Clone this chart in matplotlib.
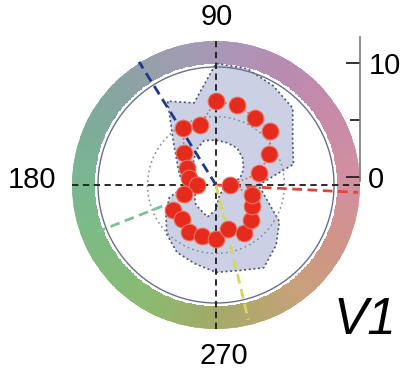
import numpy as np
import matplotlib
matplotlib.use("Agg")
import matplotlib.pyplot as plt
from matplotlib.colors import LinearSegmentedColormap

# ---------------- data ----------------
directions_deg = [0, 15, 30, 45, 60, 75, 90, 105, 120, 135, 150, 165,
                  180, 195, 210, 225, 240, 255, 270, 285, 300, 315, 330, 345]
mean_response = [1.2, 3.8, 5.2, 6.5, 6.6, 7.0, 7.1, 5.3, 5.6, 3.8, 2.8, 2.4,
                 1.6, 2.8, 4.2, 4.1, 4.6, 4.5, 4.6, 3.9, 4.7, 4.2, 3.5, 3.2]
band_lower = [0.7, 2.1, 2.7, 3.2, 3.6, 3.7, 3.8, 3.9, 3.4, 2.7, 2.0, 1.7,
              1.0, 1.7, 2.1, 2.4, 2.5, 2.8, 2.1, 1.0, 0.8, 0.8, 0.7, 0.5]
band_upper = [3.6, 6.8, 7.5, 9.2, 9.7, 10.2, 10.3, 7.2, 8.2, 5.1, 3.8, 3.2,
              2.5, 4.1, 4.9, 5.9, 6.6, 6.9, 7.4, 7.5, 8.1, 7.2, 6.2, 4.4]
outer_circle = 10.0
mean_circle = 5.8

# preferred-direction lines: angle (deg), start radius, end radius
pref_angles = [122, 357, 201.5, 283.5]
pref_start = [0.0, 0.0, 4.9, 0.0]
pref_end = [12.3, 12.05, 11.0, 11.75]
pref_colors = ["#1d3a8a", "#e0453c", "#7fbf98", "#d6d85a"]

theta_labels = ["90", "180", "270"]
scale_ticks = [0, 10]
scale_minor = [5]
panel_label = "V1"

# ring colour anchors (angle in degrees -> colour)
ring_anchor_deg = [0, 30, 60, 90, 115, 135, 155, 180, 210, 240, 270, 290, 310, 330, 360]
ring_anchor_col = ["#d3909e", "#c98aa9", "#b88bb0", "#a898b8", "#9a9eae", "#88a4a2",
                   "#7eac9a", "#78b890", "#7fbb80", "#8cba70", "#a3aa68", "#b6a670",
                   "#c9a07c", "#cf9585", "#d3909e"]

# ---------------- figure ----------------
plt.rcParams["font.family"] = ["Liberation Sans", "DejaVu Sans"]
W, H = 409, 374
fig = plt.figure(figsize=(W / 100, H / 100), dpi=100)
fig.patch.set_facecolor("white")

cx, cy, Rpx = 216, 185, 144
rmax = 12.2
ax = fig.add_axes([(cx - Rpx) / W, (H - cy - Rpx) / H, 2 * Rpx / W, 2 * Rpx / H],
                  projection="polar")
ax.set_ylim(0, rmax)
ax.set_xticks([])
ax.set_yticks([])
ax.grid(False)
ax.spines["polar"].set_visible(False)
ax.set_facecolor("none")

# colour ring
cmap = LinearSegmentedColormap.from_list(
    "ring", list(zip(np.array(ring_anchor_deg) / 360.0, ring_anchor_col)))
ring_edges = np.deg2rad(np.arange(0, 361, 1))
ring_vals = np.arange(0.5, 360, 1)[None, :]
ax.pcolormesh(ring_edges, [10.35, 12.15], ring_vals, cmap=cmap, vmin=0, vmax=360,
              shading="flat", edgecolors="face", linewidth=0.3, zorder=1)

th = np.deg2rad(directions_deg)
th_closed = np.append(th, th[0])

# shaded band
band_th = np.concatenate([th_closed, th_closed[::-1]])
band_r = np.concatenate([np.append(band_upper, band_upper[0]),
                         np.append(band_lower, band_lower[0])[::-1]])
ax.fill(band_th, band_r, color="#c9cee4", alpha=0.95, zorder=2, lw=0)
ax.plot(th_closed, np.append(band_upper, band_upper[0]), ls=(0, (1.2, 1.6)),
        color="#4d566e", lw=1.2, zorder=3)
ax.plot(th_closed, np.append(band_lower, band_lower[0]), ls=(0, (1.2, 1.6)),
        color="#4d566e", lw=1.2, zorder=3)

# reference circles
circ = np.deg2rad(np.linspace(0, 360, 361))
ax.plot(circ, np.full_like(circ, outer_circle), color="#6a7088", lw=1.0, zorder=3)
ax.plot(circ, np.full_like(circ, mean_circle), ls=(0, (1.2, 2.0)),
        color="#8a909c", lw=1.1, zorder=3)

# black dashed cross
for a in (0, 90):
    ax.plot(np.deg2rad([a, a + 180]), [rmax, rmax], color="#1a1a1a",
            ls=(0, (3.5, 2.5)), lw=1.3, zorder=4, clip_on=False)

# preferred direction lines
for a, r0, r1, c in zip(pref_angles, pref_start, pref_end, pref_colors):
    ax.plot(np.deg2rad([a, a]), [r0, r1], color=c, ls=(0, (3.5, 2.0)), lw=2.0,
            zorder=5, clip_on=False)

# response curve
ax.plot(th_closed, np.append(mean_response, mean_response[0]), ls=(0, (1, 1.5)),
        color="#e8624f", lw=1.2, zorder=6)
ax.plot(th, mean_response, ls="none", marker="o", ms=12,
        mfc="#e52a1e", mec="#f0705c", mew=0.8, zorder=7)

# angle labels
ax.text(np.deg2rad(89.8), 14.25, theta_labels[0], ha="center", va="center",
        fontsize=21, clip_on=False)
ax.text(np.deg2rad(178.4), 15.6, theta_labels[1], ha="center", va="center",
        fontsize=21, clip_on=False)
ax.text(np.deg2rad(272.7), 14.5, theta_labels[2], ha="center", va="center",
        fontsize=21, clip_on=False)

# scale axis on the right
top_px, bot_px = 37, 181
ax2 = fig.add_axes([360 / W, (H - bot_px) / H, 0.0001, (bot_px - top_px) / H])
ax2.set_ylim(-0.35, 12.28)
ax2.set_xticks([])
for s in ("top", "bottom", "left"):
    ax2.spines[s].set_visible(False)
ax2.spines["right"].set_color("#7a7a7a")
ax2.spines["right"].set_linewidth(1.2)
ax2.yaxis.set_ticks_position("right")
ax2.set_yticks(scale_ticks)
ax2.set_yticks(scale_minor, minor=True)
ax2.set_yticklabels([str(t) for t in scale_ticks])
ax2.tick_params(axis="y", which="both", left=False, right=True,
                labelleft=False, labelright=True, direction="in",
                color="#222222", width=1.3, labelsize=21, pad=6)
ax2.tick_params(axis="y", which="major", length=10)
ax2.tick_params(axis="y", which="minor", length=7)
ax2.patch.set_visible(False)

fig.text(365 / W, 1 - 320 / H, panel_label, ha="center", va="center",
         fontsize=37, style="italic")

fig.savefig("out.png", dpi=100, facecolor="white")
